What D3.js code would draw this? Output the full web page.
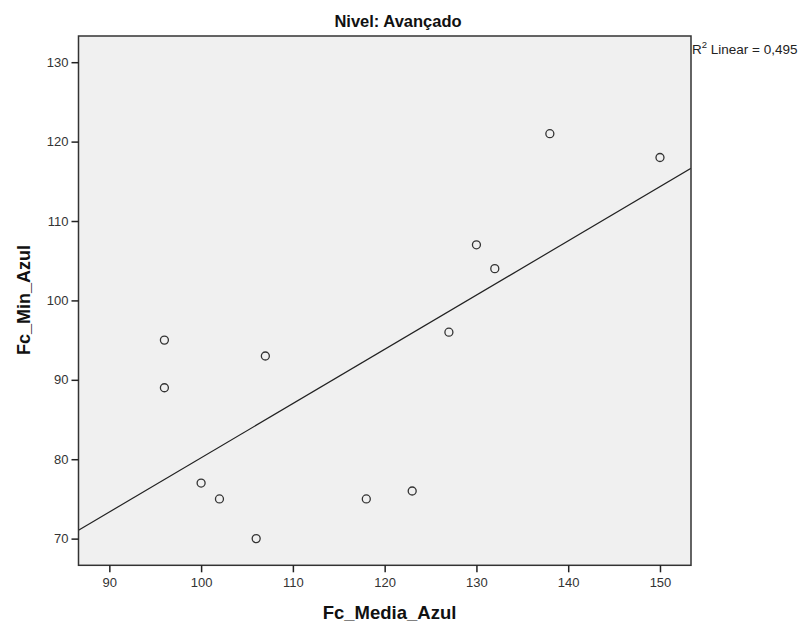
<!DOCTYPE html>
<html>
<head>
<meta charset="utf-8">
<script src="https://cdn.jsdelivr.net/npm/d3@7"></script>
<style>
  body { margin: 0; background: #fff; }
  svg { display: block; font-family: "Liberation Sans", Arial, sans-serif; }
  .axis path { display: none; }
  .axis line { stroke: #222; stroke-width: 1.5; }
  .axis text { fill: #333; font-size: 13px; }
</style>
</head>
<body>
<script>
// scatter data
var fcMedia = [96, 96, 107, 100, 102, 106, 118, 123, 127, 130, 132, 138, 150];
var fcMin   = [95, 89, 93, 77, 75, 70, 75, 76, 96, 107, 104, 121, 118];
var xTicks = [90, 100, 110, 120, 130, 140, 150];
var yTicks = [70, 80, 90, 100, 110, 120, 130];

var width = 803, height = 623;
var margin = {left: 78.5, right: 112, top: 36, bottom: 57.7};
var w = width - margin.left - margin.right;
var h = height - margin.top - margin.bottom;

var data = fcMedia.map(function(d, i){ return {x: d, y: fcMin[i]}; });

var x = d3.scaleLinear().domain([86.64, 153.38]).range([0, w]);
var y = d3.scaleLinear().domain([66.64, 133.3]).range([h, 0]);

// least squares line
var mx = d3.mean(fcMedia), my = d3.mean(fcMin);
var sxy = d3.sum(data, function(d){ return (d.x - mx) * (d.y - my); });
var sxx = d3.sum(data, function(d){ return (d.x - mx) * (d.x - mx); });
var syy = d3.sum(data, function(d){ return (d.y - my) * (d.y - my); });
var slope = sxy / sxx, intercept = my - slope * mx;
var r2 = sxy * sxy / (sxx * syy);

var svg = d3.select("body").append("svg").attr("width", width).attr("height", height);
var g = svg.append("g").attr("transform", "translate(" + margin.left + "," + margin.top + ")");

g.append("rect").attr("width", w).attr("height", h).attr("fill", "#f0f0f0");

var clip = svg.append("clipPath").attr("id", "clip");
clip.append("rect").attr("width", w).attr("height", h);

var xd = x.domain();
g.append("line")
  .attr("clip-path", "url(#clip)")
  .attr("x1", x(xd[0])).attr("y1", y(intercept + slope * xd[0]))
  .attr("x2", x(xd[1])).attr("y2", y(intercept + slope * xd[1]))
  .attr("stroke", "#222").attr("stroke-width", 1.2);

g.selectAll("circle").data(data).enter().append("circle")
  .attr("cx", function(d){ return x(d.x); })
  .attr("cy", function(d){ return y(d.y); })
  .attr("r", 4)
  .attr("fill", "none")
  .attr("stroke", "#333")
  .attr("stroke-width", 1.3);

// frame
g.append("rect").attr("width", w).attr("height", h)
  .attr("fill", "none").attr("stroke", "#333").attr("stroke-width", 1.5);

g.append("g").attr("class", "axis")
  .attr("transform", "translate(0," + h + ")")
  .call(d3.axisBottom(x).tickValues(xTicks).tickSize(7).tickPadding(5));

g.append("g").attr("class", "axis")
  .call(d3.axisLeft(y).tickValues(yTicks).tickSize(7).tickPadding(3));

svg.append("text")
  .attr("x", 398).attr("y", 27)
  .attr("text-anchor", "middle")
  .attr("font-weight", "bold").attr("font-size", 16.5).attr("fill", "#111")
  .text("Nivel: Avançado");

svg.append("text")
  .attr("transform", "translate(30,300) rotate(-90)")
  .attr("text-anchor", "middle")
  .attr("font-weight", "bold").attr("font-size", 18).attr("fill", "#111")
  .text("Fc_Min_Azul");

svg.append("text")
  .attr("x", 389.5).attr("y", 619)
  .attr("text-anchor", "middle")
  .attr("font-weight", "bold").attr("font-size", 18.5).attr("fill", "#111")
  .text("Fc_Media_Azul");

var r2t = svg.append("text")
  .attr("x", margin.left + w + 1).attr("y", 54)
  .attr("font-size", 13.5).attr("fill", "#222");
r2t.append("tspan").text("R");
r2t.append("tspan").attr("font-size", 9.5).attr("dy", -6).text("2");
r2t.append("tspan").attr("dy", 6).text(" Linear = " + d3.format(".3f")(r2).replace(".", ","));
</script>
</body>
</html>
